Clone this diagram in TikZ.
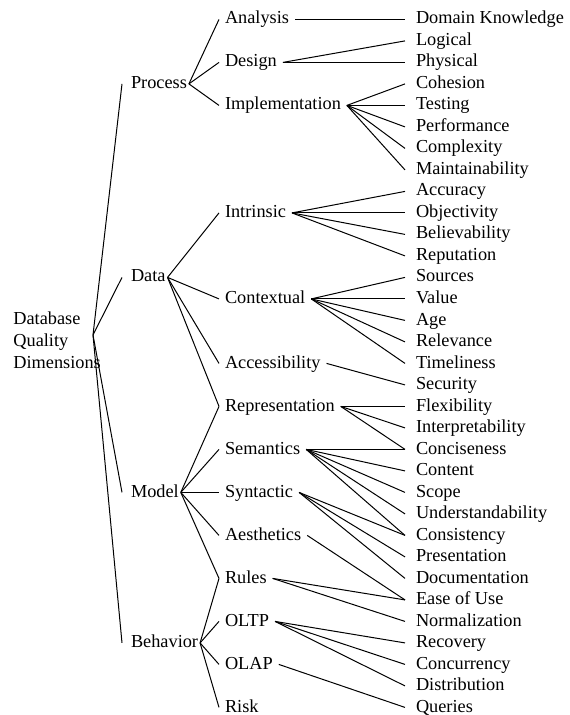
\documentclass[tikz,border=0pt]{standalone}
\usepackage{fontspec}
\setmainfont{Liberation Serif}
\begin{document}
\begin{tikzpicture}[x=0.5pt,y=-0.5pt,font=\fontsize{9.15pt}{11pt}\selectfont]
	\tikzstyle{attr}=[anchor=base west,inner sep=0pt,outer xsep=5.5pt]
	\tikzstyle{sub}=[anchor=base west,inner sep=0pt,outer xsep=3pt]
	\tikzstyle{cat}=[anchor=base west,inner sep=0pt,outer xsep=1pt]
	\tikzstyle{link}=[line width=0.5pt]
	\newcommand*{\fan}[2]{\foreach \y in {#2}{
		\draw[link] (s_#1.mid east) -- (a_\y.mid west);
}}
	\useasboundingbox (0,0) rectangle (569,715);
	\foreach \lbl [count=\i from 0] in {Domain Knowledge,Logical,Physical,Cohesion,Testing,Performance,Complexity,Maintainability,Accuracy,Objectivity,Believability,Reputation,Sources,Value,Age,Relevance,Timeliness,Security,Flexibility,Interpretability,Conciseness,Content,Scope,Understandability,Consistency,Presentation,Documentation,Ease of Use,Normalization,Recovery,Concurrency,Distribution,Queries}{
		\node[attr] (a_\i) at (405,24+21.5*\i) {\lbl};
	}
	\foreach \i/\row/\lbl in {0/0/Analysis,1/2/Design,2/4/Implementation,3/9/Intrinsic,4/13/Contextual,5/16/Accessibility,6/18/Representation,7/20/Semantics,8/22/Syntactic,9/24/Aesthetics,10/26/Rules,11/28/OLTP,12/30/OLAP,13/32/Risk}{
		\node[sub] (s_\i) at (219,24+21.5*\row) {\lbl};
	}
	\foreach \i/\row/\lbl in {1/3/Process,2/12/Data,3/22/Model,4/29/Behavior}{
		\node[cat] (c_\i) at (129,24+21.5*\row) {\lbl};
	}
	\node[align=left,inner sep=0pt,anchor=west] (dims) at (13,340) {Database\\Quality\\Dimensions};
	\coordinate (hub) at (93,335);
	\foreach \i in {1,...,4}
		\draw[link] (hub) -- ([xshift=-3.5pt]c_\i.mid west);
	\foreach \c/\s in {1/0,1/1,1/2,2/3,2/4,2/5,2/6,3/6,3/7,3/8,3/9,3/10,4/10,4/11,4/12,4/13}
		\draw[link] (c_\c.mid east) -- (s_\s.mid west);
	\fan{0}{0}
	\fan{1}{1,2}
	\fan{2}{3,...,7}
	\fan{3}{8,...,11}
	\fan{4}{12,...,16}
	\fan{5}{17}
	\fan{6}{18,19,20}
	\fan{7}{20,...,24}
	\fan{8}{24,25,26}
	\fan{9}{27}
	\fan{10}{27,28}
	\fan{11}{29,30,31}
	\fan{12}{32}
\end{tikzpicture}
\end{document}
